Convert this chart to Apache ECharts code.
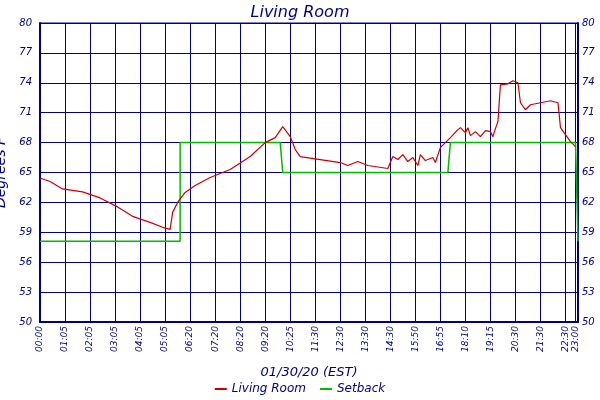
<!DOCTYPE html><html><head><meta charset="utf-8">
<script src="https://cdn.jsdelivr.net/npm/echarts@6/dist/echarts.min.js"></script>
<style>html,body{margin:0;background:#fff}#c{width:600px;height:400px}</style></head><body><div id="c"></div>
<script>
const tickIdx=[0,10,20,30,40,50,60,70,80,90,100,110,120,130,140,150,160,170,180,190,200,210,214];
const tickLabels=['00:00','01:05','02:05','03:05','04:05','05:05','06:20','07:20','08:20','09:20','10:25','11:30','12:30','13:30','14:30','15:50','16:55','18:10','19:15','20:30','21:30','22:30','23:00'];
const yTicks=[50,53,56,59,62,65,68,71,74,77,80];
const livingRoom=[[0,64.45],[4,64.1],[9,63.35],[17,63.05],[24,62.45],[31,61.55],[37,60.6],[44,60.0],[49,59.5],[52,59.3],[53,61.0],[55,62.0],[58,63.0],[62,63.7],[68,64.5],[76,65.3],[84,66.6],[90,68.0],[94,68.5],[97,69.6],[100,68.6],[102,67.3],[104,66.6],[112,66.3],[120,66.0],[123,65.7],[127,66.1],[131,65.7],[139,65.4],[141,66.6],[143,66.3],[145,66.8],[147,66.1],[149,66.5],[151,65.7],[152,66.8],[154,66.2],[157,66.5],[158,66.0],[160,67.5],[162,68.0],[164,68.5],[167,69.3],[168,69.5],[170,69.0],[171,69.5],[172,68.7],[174,69.1],[176,68.6],[178,69.2],[180,69.1],[181,68.6],[182,69.4],[183,70.1],[184,73.8],[187,73.9],[189,74.2],[191,74.0],[192,72.0],[194,71.3],[196,71.8],[200,72.0],[204,72.2],[207,72.0],[208,69.5],[210,68.8],[212,68.1],[214,67.6]];
const setback=[[0,58.1],[56,58.1],[56,68],[96,68],[97,65],[163,65],[164,68],[214,68],[215,58.1]];
const N=216;
const cats=[];for(let i=0;i<N;i++){const k=tickIdx.indexOf(i);cats.push(k>=0?tickLabels[k]:'');}
const isTick=(i)=>tickIdx.indexOf(i)>=0;
const C='#000080';const F='DejaVu Sans';
const yAx=(pos)=>({type:'value',position:pos,min:50,max:80,interval:3,
 axisLine:{show:true,lineStyle:{color:C,width:2}},axisTick:{show:false},
 axisLabel:{color:C,fontSize:10,fontStyle:'italic',fontFamily:F,margin:pos==='left'?8:4},
 splitLine:{show:pos==='left',lineStyle:{color:C,width:1}}});
const chart=echarts.init(document.getElementById('c'));
chart.setOption({
 animation:false,backgroundColor:'#fff',
 title:{text:'Living Room',left:'center',top:0,textStyle:{color:C,fontSize:16,fontStyle:'italic',fontWeight:'normal',fontFamily:F}},
 grid:{left:40,right:22,top:23,bottom:78,containLabel:false,outerBoundsMode:'none',show:true,borderColor:C,borderWidth:1},
 xAxis:{type:'category',data:cats,boundaryGap:false,name:'01/30/20 (EST)',nameLocation:'middle',nameGap:44,
  nameTextStyle:{color:C,fontSize:13,fontStyle:'italic',fontFamily:F},
  axisLine:{lineStyle:{color:C,width:2}},axisTick:{show:false},
  axisLabel:{interval:(i)=>isTick(i),rotate:90,color:C,fontSize:9,fontStyle:'italic',fontFamily:F,margin:4},
  splitLine:{show:true,interval:(i)=>isTick(i),lineStyle:{color:C,width:1}}},
 yAxis:[Object.assign(yAx('left'),{name:'Degrees F',nameLocation:'middle',nameGap:26,nameTextStyle:{color:C,fontSize:14,fontStyle:'italic',fontFamily:F}}),yAx('right')],
 legend:{bottom:0,left:'center',itemWidth:12,itemHeight:2,itemGap:14,icon:'rect',textStyle:{color:C,fontSize:12,fontStyle:'italic',fontFamily:F},data:['Living Room','Setback']},
 series:[
  {name:'Living Room',type:'line',data:livingRoom,showSymbol:false,lineStyle:{color:'#cc0000',width:1.2},itemStyle:{color:'#cc0000'},z:3},
  {name:'Setback',type:'line',data:setback,showSymbol:false,lineStyle:{color:'#00bb00',width:1.5},itemStyle:{color:'#00bb00'},z:2}
 ]});
</script></body></html>
